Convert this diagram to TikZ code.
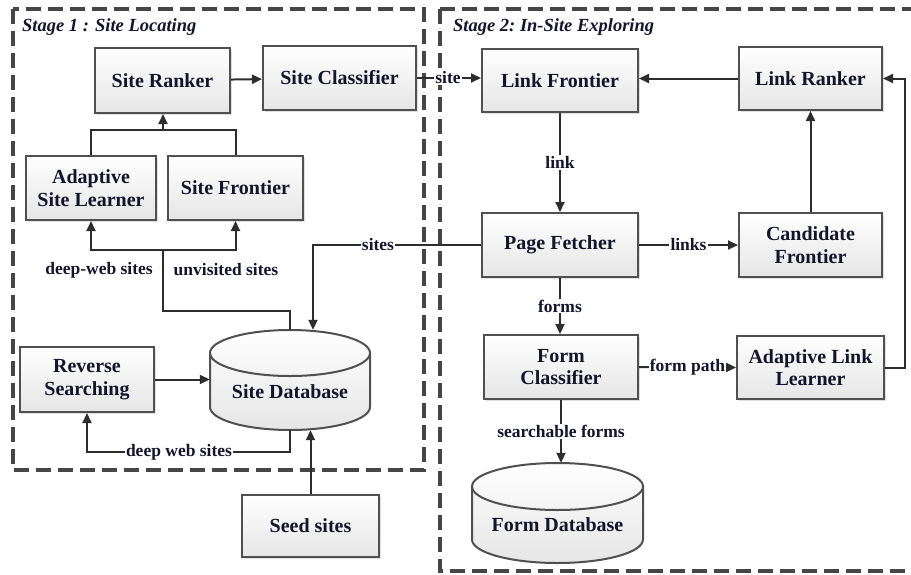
\documentclass[tikz,border=0pt]{standalone}
\usepackage{fontspec}
\setmainfont{Liberation Serif}
\usetikzlibrary{arrows.meta,shadows}
\definecolor{txt}{RGB}{20,20,45}
\definecolor{ln}{RGB}{45,45,45}
\definecolor{frame}{RGB}{80,80,80}
\definecolor{dashc}{RGB}{70,70,70}
\tikzset{
  box/.style={rectangle, draw=frame, line width=2pt, top color=white, bottom color=gray!20,
    drop shadow={shadow xshift=1.5pt, shadow yshift=-1.5pt, opacity=0.25},
    font=\bfseries\fontsize{20}{22.5}\selectfont, text=txt, align=center, inner sep=0pt},
  dbarea/.style={rectangle, inner sep=0pt},
  dbtext/.style={font=\bfseries\fontsize{20}{22.5}\selectfont, text=txt, inner sep=0pt},
  line/.style={draw=ln, line width=2pt},
  conn/.style={line, -{Triangle[length=10pt,width=9pt]}},
  lab/.style={fill=white, font=\bfseries\fontsize{17.5}{19}\selectfont, text=txt, inner sep=1.2pt},
  freelab/.style={font=\bfseries\fontsize{17.5}{19}\selectfont, text=txt, inner sep=0pt},
  stage/.style={draw=dashc, line width=3.5pt, dash pattern=on 15pt off 7pt},
  stagetitle/.style={font=\bfseries\itshape\fontsize{18.5}{20}\selectfont, text=txt, anchor=west, inner sep=0pt},
  cylfill/.style={top color=white, bottom color=gray!20},
  cyldraw/.style={draw=frame, line width=2pt}
}
\begin{document}
\begin{tikzpicture}[x=1pt,y=-1pt]
\useasboundingbox (0,0) rectangle (911,574);
% stage frames
\draw[stage] (13,9) rectangle (424,470);
\draw[stage] (440,9) -- (920,9);
\draw[stage] (440,9) -- (440,571) -- (920,571);
\node[stagetitle] (t1) at (22,27) {Stage 1 : Site Locating};
\node[stagetitle] (t2) at (453,27) {Stage 2:\ In-Site Exploring};

% boxes
\node[box, minimum width=135pt, minimum height=65pt] (sr) at (162.5,80.5) {Site Ranker};
\node[box, minimum width=153pt, minimum height=64pt] (sc) at (339.5,78) {Site Classifier};
\node[box, minimum width=130pt, minimum height=64pt] (asl) at (91,188) {Adaptive\\Site Learner};
\node[box, minimum width=135pt, minimum height=64pt] (sf) at (235.5,188) {Site Frontier};
\node[box, minimum width=134pt, minimum height=65pt] (rs) at (87,379.5) {Reverse\\Searching};
\node[box, minimum width=137pt, minimum height=62pt] (seed) at (310.5,526) {Seed sites};
\node[box, minimum width=156pt, minimum height=63pt] (lf) at (560,80.5) {Link Frontier};
\node[box, minimum width=143pt, minimum height=63pt] (lr) at (810.5,78.5) {Link Ranker};
\node[box, minimum width=156pt, minimum height=64pt] (pf) at (560,245) {Page Fetcher};
\node[box, minimum width=143pt, minimum height=64pt] (cf) at (810.5,245) {Candidate\\Frontier};
\node[box, minimum width=154pt, minimum height=64pt] (fc) at (561,367) {Form\\Classifier};
\node[box, minimum width=147pt, minimum height=63pt] (all) at (810.5,367.5) {Adaptive Link\\Learner};

% site database cylinder
\node[dbarea, minimum width=160pt, minimum height=100pt] (sdb) at (290,380) {};
\path[cylfill] (210,353) arc[start angle=180,end angle=0,x radius=80pt,y radius=23pt]
  -- (370,407) arc[start angle=0,end angle=-180,x radius=80pt,y radius=23pt] -- cycle;
\draw[cyldraw] (210,353) arc[start angle=180,end angle=0,x radius=80pt,y radius=23pt]
  -- (370,407) arc[start angle=0,end angle=-180,x radius=80pt,y radius=23pt] -- cycle;
\draw[cyldraw] (210,353) arc[start angle=180,end angle=360,x radius=80pt,y radius=23pt];
\node[dbtext] (sdbl) at (290,392) {Site Database};

% form database cylinder
\node[dbarea, minimum width=171pt, minimum height=100pt] (fdb) at (557.5,513) {};
\path[cylfill] (472,486.5) arc[start angle=180,end angle=0,x radius=85.5pt,y radius=23.5pt]
  -- (643,539.5) arc[start angle=0,end angle=-180,x radius=85.5pt,y radius=23.5pt] -- cycle;
\draw[cyldraw] (472,486.5) arc[start angle=180,end angle=0,x radius=85.5pt,y radius=23.5pt]
  -- (643,539.5) arc[start angle=0,end angle=-180,x radius=85.5pt,y radius=23.5pt] -- cycle;
\draw[cyldraw] (472,486.5) arc[start angle=180,end angle=360,x radius=85.5pt,y radius=23.5pt];
\node[dbtext] (fdbl) at (557.5,525) {Form Database};

% helper coordinates
\coordinate (j1) at (163,130);
\coordinate (j2) at (163,250);
\coordinate (j3) at (163,311);
\coordinate (c1) at (313,245);
\coordinate (c2) at (291,452);
\coordinate (c3) at (905,0);

% stage 1 connectors
\draw[conn] (sr) -- (sc);
\draw[line] (asl.north) |- (j1) -| (sf.north);
\draw[conn] (j1) -- (j1 |- sr.south);
\draw[line] (sdb.north) |- (j3) -- (j2);
\draw[conn] (j2) -| (asl.south);
\draw[conn] (j2) -| (sf.south);
\node[freelab] (l1) at (99,270) {deep-web sites};
\node[freelab] (l2) at (226,270) {unvisited sites};
\draw[conn] (rs.east) -- (rs.east -| sdb.west);
\draw[conn] (sdb.south) -- (sdb.south |- c2) -| (rs.south);
\node[lab] (l3) at (179,452) {deep web sites};
\draw[conn] (seed.north) -- (seed.north |- sdb.south);

% cross-stage connectors
\draw[conn] (sc.east) -- (sc.east -| lf.west);
\node[lab] (l4) at (448,78) {site};
\draw[conn] (pf.west) -- (c1) -- (c1 |- sdb.north);
\node[lab] (l5) at (378,245) {sites};

% stage 2 connectors
\draw[conn] (lr.west) -- (lr.west -| lf.east);
\draw[conn] (lf.south) -- node[lab] {link} (pf.north);
\draw[conn] (pf.east) -- node[lab] {links} (cf.west);
\draw[conn] (cf.north) -- (lr.south);
\draw[conn] (pf.south) -- node[lab] {forms} (pf.south |- fc.north);
\draw[conn] (fc.east) -- node[lab] {form path} (all.west);
\draw[conn] (all.east) -- (all.east -| c3) |- (lr.east);
\draw[conn] (fc.south) -- node[lab] {searchable forms} (fc.south |- fdb.north);
\end{tikzpicture}
\end{document}
